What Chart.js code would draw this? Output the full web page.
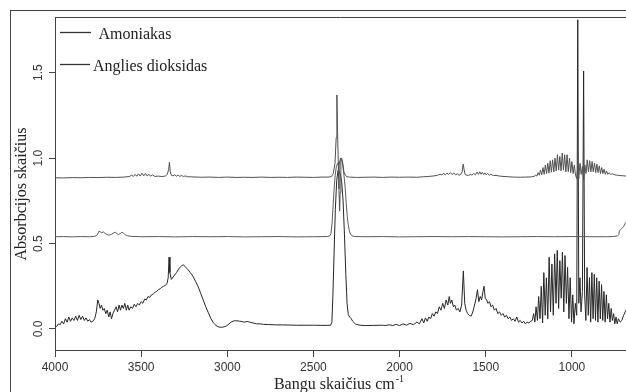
<!DOCTYPE html>
<html>
<head>
<meta charset="utf-8">
<script src="https://cdn.jsdelivr.net/npm/chart.js@4.4.1/dist/chart.umd.min.js"></script>
<style>
  html, body { margin: 0; padding: 0; background: #fff; overflow: hidden; }
  #wrap { position: relative; width: 626px; height: 392px; overflow: hidden; }
  #spektras { position: absolute; left: 0; top: 0; }
  #remas { position: absolute; left: 10px; top: 10px; width: 700px; height: 500px;
           border-left: 1px solid #444; border-top: 1px solid #444; pointer-events: none; }
</style>
</head>
<body>
<div id="wrap">
  <canvas id="spektras" width="626" height="392"></canvas>
  <div id="remas"></div>
</div>
<script>
// [bangos skaičius cm-1, absorbcija]
const amoniakas = [
  [4000, 0.885], [3950, 0.884], [3900, 0.886], [3850, 0.885], [3800, 0.887], [3750, 0.886],
  [3700, 0.888], [3650, 0.887], [3600, 0.889], [3570, 0.892], [3555, 0.9], [3545, 0.893],
  [3535, 0.905], [3525, 0.894], [3515, 0.908], [3505, 0.895], [3495, 0.912], [3485, 0.896],
  [3475, 0.91], [3465, 0.895], [3455, 0.906], [3445, 0.894], [3435, 0.902], [3420, 0.893],
  [3400, 0.895], [3380, 0.892], [3360, 0.895], [3348, 0.905], [3340, 0.935], [3336, 0.975],
  [3331, 0.92], [3325, 0.9], [3315, 0.896], [3305, 0.903], [3295, 0.894], [3285, 0.901],
  [3275, 0.893], [3265, 0.899], [3255, 0.892], [3245, 0.896], [3230, 0.891], [3200, 0.89],
  [3150, 0.888], [3100, 0.889], [3050, 0.887], [3000, 0.889], [2950, 0.887], [2900, 0.888],
  [2850, 0.887], [2800, 0.889], [2750, 0.887], [2700, 0.888], [2650, 0.887], [2600, 0.889],
  [2550, 0.888], [2500, 0.887], [2450, 0.889], [2410, 0.889], [2395, 0.893], [2385, 0.91],
  [2375, 0.97], [2368, 1.12], [2364, 1.37], [2360, 1.15], [2356, 0.98], [2352, 0.82],
  [2348, 0.69], [2345, 0.8], [2341, 1.0], [2336, 1.0], [2330, 0.97], [2323, 0.92],
  [2315, 0.9], [2305, 0.891], [2290, 0.889], [2250, 0.887], [2200, 0.888], [2150, 0.889],
  [2100, 0.887], [2050, 0.889], [2000, 0.888], [1950, 0.889], [1900, 0.888], [1860, 0.891],
  [1830, 0.893], [1800, 0.896], [1780, 0.9], [1765, 0.905], [1755, 0.902], [1745, 0.91],
  [1735, 0.903], [1725, 0.912], [1715, 0.905], [1705, 0.915], [1695, 0.904], [1685, 0.913],
  [1675, 0.902], [1665, 0.908], [1655, 0.9], [1645, 0.905], [1637, 0.92], [1631, 0.965],
  [1626, 0.935], [1620, 0.905], [1610, 0.9], [1600, 0.898], [1590, 0.905], [1580, 0.901],
  [1570, 0.91], [1560, 0.903], [1550, 0.918], [1542, 0.905], [1535, 0.92], [1527, 0.906],
  [1520, 0.917], [1512, 0.904], [1505, 0.914], [1497, 0.902], [1490, 0.91], [1480, 0.9],
  [1470, 0.905], [1455, 0.898], [1440, 0.899], [1420, 0.895], [1400, 0.893], [1370, 0.891],
  [1340, 0.889], [1300, 0.888], [1270, 0.889], [1240, 0.89], [1220, 0.893], [1210, 0.9],
  [1203, 0.895], [1196, 0.915], [1189, 0.9], [1182, 0.93], [1175, 0.902], [1168, 0.945],
  [1161, 0.905], [1154, 0.96], [1147, 0.91], [1140, 0.97], [1133, 0.912], [1126, 0.985],
  [1119, 0.918], [1112, 0.99], [1105, 0.92], [1098, 1.0], [1091, 0.925], [1084, 1.02],
  [1077, 0.93], [1070, 1.01], [1063, 0.925], [1056, 1.03], [1049, 0.93], [1042, 1.02],
  [1035, 0.92], [1028, 1.02], [1021, 0.92], [1014, 1.0], [1007, 0.915], [1000, 0.98],
  [993, 0.91], [986, 0.96], [979, 0.9], [972, 0.88], [966, 0.95], [960, 0.88],
  [953, 0.97], [946, 0.905], [939, 0.95], [932, 0.87], [925, 0.96], [918, 0.91],
  [911, 0.99], [904, 0.92], [897, 0.985], [890, 0.92], [883, 0.98], [876, 0.92],
  [869, 0.97], [862, 0.915], [855, 0.965], [848, 0.915], [841, 0.955], [834, 0.91],
  [827, 0.945], [820, 0.91], [813, 0.935], [806, 0.905], [799, 0.925], [792, 0.905],
  [785, 0.915], [775, 0.905], [765, 0.908], [750, 0.902], [735, 0.9], [720, 0.898],
  [705, 0.897], [686, 0.895]
];

const angliesDioksidas = [
  [4000, 0.54], [3950, 0.541], [3900, 0.539], [3850, 0.541], [3800, 0.54], [3770, 0.542],
  [3755, 0.55], [3745, 0.572], [3737, 0.568], [3728, 0.563], [3720, 0.569], [3710, 0.56],
  [3700, 0.553], [3690, 0.549], [3680, 0.551], [3670, 0.556], [3660, 0.562], [3650, 0.566],
  [3640, 0.558], [3632, 0.552], [3622, 0.558], [3612, 0.566], [3604, 0.562], [3595, 0.553],
  [3580, 0.546], [3560, 0.542], [3500, 0.54], [3400, 0.541], [3300, 0.539], [3200, 0.541],
  [3100, 0.54], [3000, 0.541], [2900, 0.539], [2800, 0.54], [2700, 0.541], [2600, 0.539],
  [2500, 0.54], [2420, 0.541], [2405, 0.545], [2398, 0.56], [2392, 0.62], [2386, 0.72],
  [2380, 0.82], [2374, 0.9], [2367, 0.95], [2360, 0.97], [2354, 0.96], [2348, 0.98],
  [2342, 1.0], [2336, 0.99], [2330, 0.96], [2323, 0.9], [2316, 0.83], [2310, 0.74],
  [2304, 0.66], [2298, 0.61], [2292, 0.575], [2285, 0.555], [2276, 0.545], [2260, 0.541],
  [2200, 0.54], [2100, 0.541], [2000, 0.539], [1900, 0.54], [1800, 0.541], [1700, 0.54],
  [1600, 0.541], [1500, 0.54], [1400, 0.539], [1300, 0.54], [1200, 0.541], [1100, 0.54],
  [1000, 0.541], [900, 0.54], [800, 0.54], [760, 0.541], [735, 0.545], [728, 0.552],
  [724, 0.575], [718, 0.58], [710, 0.588], [700, 0.6], [692, 0.615], [686, 0.625]
];

const misinys = [
  [4000, 0.02], [3990, 0.015], [3980, 0.03], [3970, 0.025], [3960, 0.045], [3950, 0.03],
  [3940, 0.06], [3930, 0.04], [3920, 0.07], [3910, 0.045], [3900, 0.065], [3890, 0.05],
  [3880, 0.075], [3870, 0.05], [3860, 0.08], [3850, 0.055], [3840, 0.075], [3830, 0.05],
  [3820, 0.065], [3810, 0.045], [3800, 0.055], [3790, 0.04], [3780, 0.045], [3770, 0.06],
  [3760, 0.1], [3752, 0.17], [3745, 0.15], [3738, 0.12], [3730, 0.14], [3722, 0.11],
  [3714, 0.12], [3705, 0.09], [3697, 0.11], [3688, 0.07], [3680, 0.1], [3672, 0.06],
  [3664, 0.09], [3655, 0.11], [3645, 0.13], [3637, 0.1], [3628, 0.14], [3620, 0.11],
  [3612, 0.14], [3603, 0.12], [3595, 0.15], [3586, 0.11], [3578, 0.14], [3570, 0.11],
  [3560, 0.13], [3550, 0.12], [3540, 0.145], [3530, 0.13], [3520, 0.15], [3510, 0.14],
  [3500, 0.16], [3490, 0.15], [3480, 0.175], [3470, 0.17], [3460, 0.19], [3450, 0.185],
  [3440, 0.2], [3430, 0.205], [3420, 0.215], [3410, 0.22], [3400, 0.23], [3390, 0.235],
  [3380, 0.245], [3370, 0.25], [3360, 0.255], [3350, 0.265], [3343, 0.3], [3338, 0.42],
  [3333, 0.33], [3325, 0.29], [3310, 0.31], [3295, 0.33], [3280, 0.355], [3265, 0.37],
  [3255, 0.375], [3245, 0.365], [3230, 0.35], [3215, 0.33], [3200, 0.31], [3185, 0.28],
  [3170, 0.25], [3155, 0.21], [3140, 0.17], [3125, 0.13], [3110, 0.095], [3095, 0.06],
  [3080, 0.035], [3065, 0.02], [3050, 0.012], [3035, 0.01], [3020, 0.012], [3005, 0.018],
  [2990, 0.03], [2975, 0.042], [2960, 0.048], [2945, 0.048], [2930, 0.046], [2915, 0.043],
  [2900, 0.04], [2885, 0.044], [2870, 0.04], [2850, 0.035], [2830, 0.03], [2810, 0.03],
  [2790, 0.027], [2760, 0.026], [2720, 0.024], [2680, 0.024], [2600, 0.022], [2500, 0.022],
  [2420, 0.021], [2400, 0.022], [2393, 0.04], [2387, 0.2], [2380, 0.45], [2373, 0.7],
  [2365, 0.87], [2357, 0.93], [2350, 0.92], [2343, 0.9], [2336, 0.86], [2328, 0.75],
  [2320, 0.55], [2312, 0.32], [2305, 0.15], [2298, 0.085], [2290, 0.07], [2282, 0.062],
  [2272, 0.045], [2255, 0.028], [2230, 0.022], [2200, 0.02], [2150, 0.021], [2100, 0.022],
  [2080, 0.02], [2060, 0.025], [2040, 0.02], [2020, 0.027], [2000, 0.02], [1980, 0.03],
  [1960, 0.022], [1940, 0.033], [1920, 0.025], [1900, 0.04], [1885, 0.03], [1870, 0.06],
  [1860, 0.035], [1850, 0.065], [1840, 0.045], [1830, 0.07], [1820, 0.06], [1810, 0.09],
  [1800, 0.075], [1790, 0.1], [1780, 0.09], [1770, 0.13], [1760, 0.11], [1750, 0.15],
  [1740, 0.12], [1730, 0.17], [1720, 0.14], [1712, 0.19], [1705, 0.15], [1697, 0.17],
  [1688, 0.13], [1680, 0.14], [1670, 0.11], [1660, 0.12], [1650, 0.1], [1640, 0.14],
  [1630, 0.34], [1622, 0.15], [1614, 0.11], [1605, 0.09], [1595, 0.08], [1585, 0.075],
  [1575, 0.1], [1565, 0.14], [1556, 0.18], [1548, 0.23], [1540, 0.16], [1532, 0.19],
  [1524, 0.17], [1516, 0.22], [1510, 0.25], [1503, 0.18], [1495, 0.17], [1487, 0.15],
  [1478, 0.16], [1470, 0.13], [1460, 0.14], [1450, 0.11], [1440, 0.12], [1430, 0.09],
  [1420, 0.1], [1410, 0.08], [1400, 0.09], [1390, 0.07], [1380, 0.08], [1370, 0.06],
  [1360, 0.07], [1350, 0.05], [1340, 0.06], [1330, 0.045], [1320, 0.07], [1310, 0.04],
  [1300, 0.05], [1290, 0.035], [1280, 0.045], [1270, 0.03], [1260, 0.04], [1250, 0.035],
  [1240, 0.045], [1230, 0.05], [1222, 0.09], [1215, 0.04], [1208, 0.13], [1200, 0.05],
  [1193, 0.19], [1185, 0.06], [1178, 0.25], [1170, 0.035], [1163, 0.33], [1155, 0.08],
  [1148, 0.3], [1140, 0.06], [1132, 0.42], [1124, 0.1], [1116, 0.38], [1108, 0.08],
  [1100, 0.44], [1092, 0.15], [1085, 0.46], [1077, 0.12], [1070, 0.4], [1062, 0.18],
  [1055, 0.45], [1047, 0.1], [1040, 0.43], [1032, 0.15], [1025, 0.36], [1017, 0.06],
  [1010, 0.3], [1002, 0.04], [995, 0.2], [988, 0.03], [980, 0.15], [972, 0.08],
  [966, 1.81], [960, 0.15], [953, 0.3], [947, 0.1], [939, 0.22], [932, 1.51],
  [926, 0.2], [919, 0.05], [912, 0.36], [905, 0.08], [898, 0.3], [891, 0.04],
  [884, 0.33], [877, 0.06], [870, 0.32], [863, 0.05], [856, 0.3], [849, 0.04],
  [842, 0.28], [835, 0.06], [828, 0.26], [821, 0.05], [814, 0.22], [807, 0.04],
  [800, 0.2], [793, 0.06], [786, 0.15], [779, 0.04], [772, 0.12], [765, 0.05],
  [758, 0.09], [751, 0.03], [744, 0.07], [737, 0.03], [730, 0.06], [720, 0.04],
  [710, 0.05], [700, 0.08], [686, 0.11]
];

const xTicks = [1000, 1500, 2000, 2500, 3000, 3500, 4000];
const yTicks = [0, 0.5, 1.0, 1.5];
const legendLabels = ["Amoniakas", "Anglies dioksidas"];
const xTitle = "Bangu skaičius cm";
const xTitleSup = "-1";
const yTitle = "Absorbcijos skaičius";

const serif = '"Liberation Serif", "Times New Roman", serif';
const narrow = '"Liberation Sans Narrow", "Arial Narrow", "Liberation Sans", sans-serif';

const toPoints = arr => arr.map(([x, y]) => ({ x, y }));

// remelis virsuje, legenda ir asiu pavadinimai
const papildai = {
    id: 'papildai',
    afterDraw(chart) {
        const { ctx, chartArea: a } = chart;
        ctx.save();
        ctx.strokeStyle = '#444';
        ctx.lineWidth = 1;
        ctx.beginPath();
        ctx.moveTo(a.left, a.top + 0.5);
        ctx.lineTo(a.right, a.top + 0.5);
        ctx.stroke();

        // legenda
        ctx.font = '16px ' + serif;
        ctx.fillStyle = '#222';
        ctx.textBaseline = 'alphabetic';
        ctx.textAlign = 'left';
        const eil = [
            { y: 32.5, x0: 60, x1: 91, tx: 98.5, by: 39 },
            { y: 64.5, x0: 60, x1: 90, tx: 93, by: 71 }
        ];
        legendLabels.forEach((lbl, i) => {
            const e = eil[i];
            ctx.strokeStyle = '#333';
            ctx.lineWidth = 1.3;
            ctx.beginPath();
            ctx.moveTo(e.x0, e.y);
            ctx.lineTo(e.x1, e.y);
            ctx.stroke();
            ctx.fillText(lbl, e.tx, e.by);
        });

        // x asies pavadinimas su laipsniu
        ctx.font = '16px ' + serif;
        const w1 = ctx.measureText(xTitle).width;
        ctx.font = '10px ' + serif;
        const w2 = ctx.measureText(xTitleSup).width;
        const sx = (a.left + a.right) / 2 - (w1 + w2) / 2 - 2;
        ctx.font = '16px ' + serif;
        ctx.fillText(xTitle, sx, 389);
        ctx.font = '10px ' + serif;
        ctx.fillText(xTitleSup, sx + w1 + 1, 382);

        // y asies pavadinimas
        ctx.font = '16px ' + serif;
        ctx.translate(21.5, 194);
        ctx.rotate(-Math.PI / 2);
        ctx.textAlign = 'center';
        ctx.textBaseline = 'middle';
        ctx.fillText(yTitle, 0, 0);
        ctx.restore();
    }
};

new Chart(document.getElementById('spektras'), {
    type: 'line',
    data: {
        datasets: [
            { label: legendLabels[0], data: toPoints(amoniakas), borderColor: '#505050' },
            { label: legendLabels[1], data: toPoints(angliesDioksidas), borderColor: '#5a5a5a' },
            { label: '', data: toPoints(misinys), borderColor: '#262626' }
        ]
    },
    options: {
        responsive: false,
        animation: false,
        parsing: true,
        layout: { padding: { top: 17, right: 0, left: 0, bottom: 0 } },
        elements: {
            line: { borderWidth: 1, tension: 0, fill: false },
            point: { radius: 0 }
        },
        plugins: {
            legend: { display: false },
            tooltip: { enabled: false }
        },
        scales: {
            x: {
                type: 'linear',
                reverse: true,
                min: 686,
                max: 4000,
                afterBuildTicks: s => { s.ticks = xTicks.map(v => ({ value: v })); },
                afterFit: s => { s.height = 42; },
                grid: { display: true, drawOnChartArea: false, drawTicks: true, tickLength: 7, color: '#444' },
                border: { display: true, color: '#444', width: 1 },
                ticks: {
                    autoSkip: false,
                    maxRotation: 0,
                    padding: 3,
                    color: '#333',
                    font: { family: narrow, size: 12 },
                    callback: v => String(v)
                }
            },
            y: {
                type: 'linear',
                min: -0.123,
                max: 1.826,
                afterBuildTicks: s => { s.ticks = yTicks.map(v => ({ value: v })); },
                afterFit: s => { s.width = 55; },
                grid: { display: true, drawOnChartArea: false, drawTicks: true, tickLength: 6, color: '#444' },
                border: { display: true, color: '#444', width: 1 },
                ticks: {
                    autoSkip: false,
                    minRotation: 90,
                    maxRotation: 90,
                    crossAlign: 'center',
                    padding: 2,
                    color: '#333',
                    font: { family: narrow, size: 12 },
                    callback: v => v.toFixed(1)
                }
            }
        }
    },
    plugins: [papildai]
});
</script>
</body>
</html>
